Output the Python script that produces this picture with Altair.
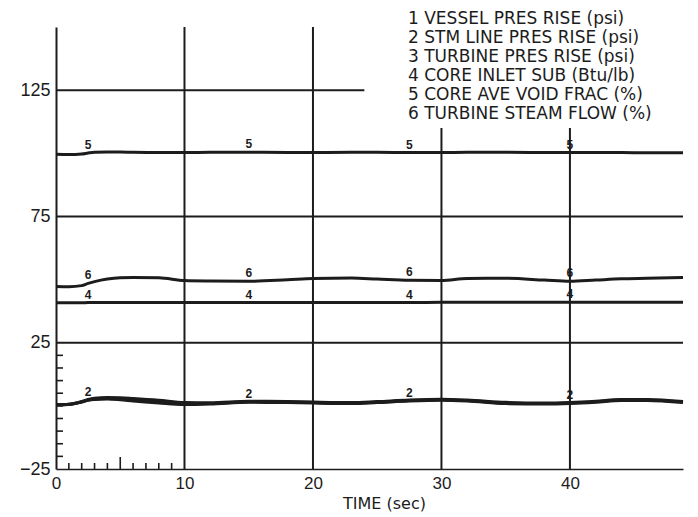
import altair as alt
import pandas as pd

# ---- data ----
time_s = [0, 1, 2, 2.5, 3, 4, 5, 6, 8, 10, 12, 15, 18, 20, 23, 25, 27.5, 30, 32, 35, 38, 40, 42, 44, 46, 48.8]
vessel = [0.4, 0.6, 1.7, 2.5, 3.0, 3.3, 3.2, 2.9, 2.2, 1.3, 1.2, 1.8, 1.7, 1.5, 1.3, 1.7, 2.3, 2.6, 2.3, 1.4, 1.1, 1.3, 1.8, 2.5, 2.5, 1.7]
stm_line = [0.4, 0.6, 1.6, 2.3, 2.7, 3.0, 2.8, 2.4, 1.6, 0.8, 0.9, 1.6, 1.5, 1.3, 1.1, 1.5, 2.1, 2.4, 2.1, 1.1, 0.9, 1.1, 1.6, 2.3, 2.3, 1.5]
turbine = [0.4, 0.5, 1.5, 2.2, 2.5, 2.7, 2.4, 1.9, 1.1, 0.5, 0.7, 1.4, 1.3, 1.1, 0.9, 1.3, 1.9, 2.2, 1.9, 0.9, 0.7, 0.9, 1.4, 2.1, 2.1, 1.3]
inlet_sub = [40.8, 40.8, 40.8, 40.9, 40.9, 40.9, 40.9, 40.9, 40.9, 40.9, 40.9, 40.9, 40.9, 40.9, 40.9, 40.9, 40.9, 41.0, 41.0, 41.0, 41.0, 41.0, 41.0, 41.0, 41.0, 41.0]
void_frac = [99.6, 99.5, 99.7, 100.1, 100.4, 100.5, 100.5, 100.4, 100.3, 100.3, 100.4, 100.4, 100.3, 100.3, 100.4, 100.4, 100.3, 100.3, 100.4, 100.4, 100.3, 100.3, 100.3, 100.3, 100.2, 100.2]
steam_flow = [47.3, 47.2, 47.6, 48.5, 49.2, 50.2, 50.7, 50.8, 50.7, 49.6, 49.4, 49.3, 49.9, 50.4, 50.6, 50.2, 49.7, 49.6, 50.4, 50.5, 49.8, 49.3, 49.8, 50.3, 50.5, 50.8]

series_ids = ["1", "2", "3", "4", "5", "6"]
legend_lines = [
    "1 VESSEL PRES RISE (psi)",
    "2 STM LINE PRES RISE (psi)",
    "3 TURBINE PRES RISE (psi)",
    "4 CORE INLET SUB (Btu/lb)",
    "5 CORE AVE VOID FRAC (%)",
    "6 TURBINE STEAM FLOW (%)",
]
label_times = [2.5, 15, 27.5, 40]
labelled_series = ["2", "4", "5", "6"]

x_labels = [0, 10, 20, 30, 40]
y_labels = [-25, 25, 75, 125]
y_minor = [-20, -15, -10, -5, 0, 5, 10, 15, 20]
x_minor = [1, 2, 3, 4, 6, 7, 8, 9]
x_mid = [5]

v_grid_x = [10, 20, 30, 40]
v_grid_top = [150, 150, 110, 110]
h_grid_y = [125, 75, 25]
h_grid_end = [24, 48.8, 48.8]

# ---- tables ----
all_series = dict(zip(series_ids, [vessel, stm_line, turbine, inlet_sub, void_frac, steam_flow]))
rows = []
for sid, vals in all_series.items():
    for t, v in zip(time_s, vals):
        rows.append({"t": t, "v": v, "s": sid})
df = pd.DataFrame(rows)

lab_rows = []
for sid in labelled_series:
    for lt in label_times:
        idx = time_s.index(lt)
        lab_rows.append({"t": lt, "v": all_series[sid][idx], "s": sid})
df_lab = pd.DataFrame(lab_rows)

INK = "#1c1c1c"
W, H = 627, 442
xs = alt.Scale(domain=[0, 48.8], nice=False, zero=False)
ys = alt.Scale(domain=[-25, 150], nice=False, zero=False)

x_axis = alt.Axis(
    values=x_labels,
    ticks=False,
    grid=False,
    domainColor=INK,
    domainWidth=1.6,
    labelFont="Liberation Sans",
    labelFontSize=17,
    labelColor=INK,
    labelPadding=6,
    labelFlush=False,
    labelOverlap=False,
    title="TIME (sec)",
    titleFont="DejaVu Sans",
    titleFontSize=16,
    titleFontWeight="normal",
    titleColor=INK,
    titleX=328,
    titleY=26,
)
y_axis = alt.Axis(
    values=y_labels,
    ticks=False,
    grid=False,
    domainColor=INK,
    domainWidth=2,
    labelFont="Liberation Sans",
    labelFontSize=18,
    labelColor=INK,
    labelPadding=6,
    labelFlush=False,
    labelOverlap=False,
    title=None,
)

vgrid = alt.Chart(pd.DataFrame({"x": v_grid_x, "y0": [-25] * 4, "y1": v_grid_top})).mark_rule(
    color=INK, strokeWidth=2
).encode(
    x=alt.X("x:Q", scale=xs, axis=x_axis),
    y=alt.Y("y0:Q", scale=ys, axis=y_axis),
    y2="y1:Q",
)

hgrid = alt.Chart(pd.DataFrame({"y": h_grid_y, "x0": [0] * 3, "x1": h_grid_end})).mark_rule(
    color=INK, strokeWidth=2
).encode(
    y=alt.Y("y:Q", scale=ys, axis=y_axis),
    x=alt.X("x0:Q", scale=xs, axis=x_axis),
    x2="x1:Q",
)

yticks = alt.Chart(pd.DataFrame({"y": y_minor})).mark_rule(color=INK, strokeWidth=1.6).encode(
    y=alt.Y("y:Q", scale=ys, axis=y_axis),
    x=alt.value(0),
    x2=alt.value(7),
)

xticks = alt.Chart(pd.DataFrame({"x": x_minor})).mark_rule(color=INK, strokeWidth=1.6).encode(
    x=alt.X("x:Q", scale=xs, axis=x_axis),
    y=alt.value(H),
    y2=alt.value(H - 6),
)

xticks_mid = alt.Chart(pd.DataFrame({"x": x_mid})).mark_rule(color=INK, strokeWidth=1.6).encode(
    x=alt.X("x:Q", scale=xs, axis=x_axis),
    y=alt.value(H),
    y2=alt.value(H - 12),
)

lines = alt.Chart(df).mark_line(color=INK, strokeWidth=3, interpolate="monotone").encode(
    x=alt.X("t:Q", scale=xs, axis=x_axis),
    y=alt.Y("v:Q", scale=ys, axis=y_axis),
    detail="s:N",
)

labels = alt.Chart(df_lab).mark_text(
    font="Liberation Sans", fontSize=12, fontWeight="bold", color=INK, baseline="bottom", dy=-1
).encode(
    x=alt.X("t:Q", scale=xs, axis=x_axis),
    y=alt.Y("v:Q", scale=ys, axis=y_axis),
    text="s:N",
)

legend = alt.Chart(pd.DataFrame({"txt": ["\n".join(legend_lines)]})).mark_text(
    align="left",
    baseline="top",
    lineBreak="\n",
    font="DejaVu Sans",
    fontSize=17,
    lineHeight=19,
    color=INK,
).encode(
    x=alt.value(352),
    y=alt.value(-16),
    text="txt:N",
)

chart = (
    alt.layer(vgrid, hgrid, yticks, xticks, xticks_mid, lines, labels, legend)
    .properties(
        width=W,
        height=H,
        autosize=alt.AutoSizeParams(type="none"),
        padding={"left": 56, "top": 27, "right": 15, "bottom": 48},
        background="white",
    )
    .configure_view(stroke=None)
)

chart.save("out.html", embed_options={"renderer": "svg", "actions": False})
